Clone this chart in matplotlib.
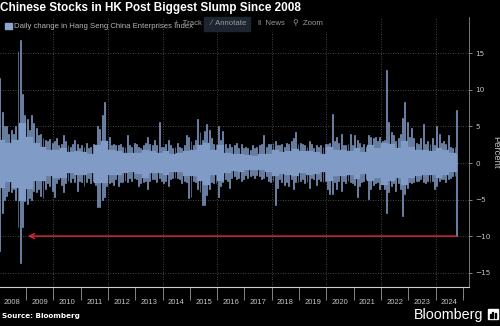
import matplotlib
matplotlib.use("Agg")
import matplotlib.pyplot as plt
from matplotlib.patches import Rectangle
import numpy as np
import pandas as pd

# Hang Seng China Enterprises Index, daily % change summarised by month:
# the biggest rise / fall of each month (the spikes) ...
months = pd.date_range("2008-01-01", "2024-10-01", freq="MS")
last_day = pd.Timestamp("2024-10-08")

max_gain = [
    11.6, 7.0, 5.0, 5.0, 4.0, 4.5, 4.0, 5.0, 15.3, 16.8, 9.5, 6.5,   # 2008
    6.0, 4.5, 6.5, 5.5, 4.8, 3.8, 4.0, 3.4, 3.2, 3.0, 3.3, 2.8,      # 2009
    3.0, 3.4, 2.4, 2.6, 3.8, 3.0, 2.4, 2.2, 2.6, 3.2, 2.6, 2.0,      # 2010
    2.4, 2.2, 2.8, 2.0, 2.2, 2.6, 2.4, 5.0, 4.6, 6.6, 8.3, 3.0,      # 2011
    3.6, 2.4, 2.6, 2.4, 2.4, 2.6, 2.2, 2.2, 3.8, 2.4, 2.2, 2.8,      # 2012
    2.6, 2.2, 2.0, 2.4, 2.8, 3.6, 2.6, 2.4, 3.2, 2.4, 5.6, 2.2,      # 2013
    2.2, 2.6, 3.2, 2.4, 2.0, 2.2, 2.8, 2.2, 2.0, 2.4, 3.8, 3.5,      # 2014
    3.0, 2.4, 3.2, 6.0, 4.2, 3.2, 4.4, 5.4, 4.5, 3.4, 2.6, 2.6,      # 2015
    5.0, 3.2, 4.4, 2.6, 2.0, 2.6, 2.2, 2.4, 2.8, 2.0, 2.6, 2.0,      # 2016
    2.2, 2.0, 1.8, 2.4, 2.0, 2.2, 2.4, 2.6, 3.8, 2.2, 2.6, 2.6,      # 2017
    2.8, 3.0, 2.4, 2.4, 2.6, 2.2, 2.8, 2.6, 3.0, 3.4, 4.2, 2.6,      # 2018
    2.8, 2.6, 2.4, 2.2, 3.0, 2.6, 2.0, 2.4, 2.2, 2.4, 2.2, 2.6,      # 2019
    2.6, 2.8, 6.7, 3.0, 3.6, 2.8, 4.0, 2.4, 2.4, 2.6, 4.0, 2.4,      # 2020
    3.8, 3.2, 2.8, 2.2, 2.6, 2.2, 3.8, 3.6, 3.4, 3.6, 3.0, 3.6,      # 2021
    3.0, 3.2, 12.7, 5.6, 4.2, 3.8, 3.0, 3.4, 4.0, 6.2, 8.4, 5.6,     # 2022
    3.6, 4.8, 3.4, 2.8, 2.6, 3.4, 5.4, 2.6, 3.0, 2.6, 3.4, 2.4,      # 2023
    5.0, 4.0, 2.8, 3.0, 2.6, 3.8, 2.2, 2.0, 2.2, 7.2,                # 2024
]
max_loss = [
    -12.0, -6.9, -5.0, -4.5, -3.8, -4.0, -3.6, -5.0, -8.8, -13.7, -8.8, -5.2,
    -5.6, -4.8, -5.0, -3.8, -4.0, -3.6, -4.5, -4.8, -3.5, -2.8, -3.2, -3.8,
    -4.6, -2.8, -2.2, -3.0, -4.0, -2.8, -2.4, -2.6, -2.0, -2.6, -3.8, -2.4,
    -2.6, -3.2, -2.6, -2.0, -2.8, -2.4, -3.0, -6.0, -6.0, -5.0, -4.6, -3.2,
    -2.8, -2.6, -3.0, -2.2, -3.2, -2.6, -2.6, -2.4, -2.6, -2.0, -2.4, -2.0,
    -2.2, -3.2, -2.8, -2.6, -2.4, -3.6, -2.4, -2.2, -2.2, -2.6, -2.0, -2.4,
    -2.8, -2.4, -3.2, -2.2, -2.0, -2.0, -2.0, -2.2, -2.8, -2.4, -2.6, -4.8,
    -4.6, -2.4, -2.6, -3.6, -4.0, -5.7, -5.8, -4.4, -3.6, -2.6, -2.8, -2.8,
    -4.7, -3.2, -2.6, -2.2, -2.4, -3.4, -2.0, -1.8, -2.2, -2.0, -2.4, -2.2,
    -1.6, -2.0, -1.8, -1.6, -2.0, -1.6, -1.8, -2.2, -2.0, -1.8, -2.4, -2.6,
    -2.4, -5.7, -3.4, -2.2, -2.6, -3.0, -2.6, -3.2, -2.2, -3.6, -2.6, -2.6,
    -2.4, -2.2, -2.8, -2.6, -3.4, -2.0, -2.2, -3.0, -2.2, -2.4, -2.6, -2.4,
    -3.6, -4.2, -4.3, -2.6, -3.6, -2.4, -3.8, -2.4, -2.8, -2.4, -2.6, -2.8,
    -3.0, -4.6, -3.2, -2.6, -2.4, -2.2, -4.9, -3.6, -3.0, -2.8, -2.6, -3.6,
    -2.8, -3.6, -6.9, -4.0, -3.2, -2.8, -3.8, -2.8, -3.6, -7.2, -4.2, -3.4,
    -2.6, -2.8, -2.6, -2.4, -2.4, -2.2, -2.6, -2.8, -2.4, -2.6, -2.4, -3.6,
    -3.2, -2.4, -2.2, -2.2, -2.6, -2.2, -2.0, -1.8, -1.8, -10.0,
]

# ... and the typical daily range of each quarter (the dense band)
band_up = [
    3.2, 2.8, 3.2, 5.5,   3.6, 2.8, 2.2, 1.8,   1.8, 2.0, 1.5, 1.7,
    1.5, 1.3, 2.4, 3.0,   1.8, 1.6, 1.4, 1.4,   1.4, 1.8, 1.6, 1.4,
    1.6, 1.2, 1.4, 1.6,   1.8, 2.4, 2.8, 1.8,   2.4, 1.4, 1.2, 1.2,
    1.1, 1.0, 1.2, 1.3,   1.8, 1.5, 1.6, 1.9,   1.6, 1.6, 1.5, 1.3,
    2.2, 1.8, 1.8, 1.6,   2.0, 1.5, 2.4, 2.0,   2.8, 2.6, 2.0, 3.0,
    2.2, 1.8, 1.8, 1.6,   2.0, 1.8, 1.4, 1.2,
]
band_down = [
    -3.4, -2.6, -3.4, -5.2,   -3.6, -2.4, -2.4, -1.8,   -2.0, -2.0, -1.4, -1.6,
    -1.6, -1.4, -2.8, -2.8,   -1.6, -1.6, -1.4, -1.2,   -1.5, -2.0, -1.4, -1.3,
    -1.6, -1.2, -1.2, -1.8,   -1.8, -2.4, -3.0, -1.6,   -2.4, -1.4, -1.1, -1.2,
    -0.9, -0.9, -1.0, -1.2,   -1.8, -1.5, -1.7, -1.8,   -1.4, -1.7, -1.5, -1.2,
    -2.4, -1.8, -1.8, -1.6,   -2.2, -1.5, -2.4, -2.0,   -3.0, -2.4, -2.0, -3.0,
    -2.0, -1.8, -1.6, -1.6,   -2.0, -1.6, -1.2, -1.2,
]

year_labels = list(range(2008, 2025))
y_ticks = [-15, -10, -5, 0, 5, 10, 15]
arrow_target = 2009.07   # points back at the 2008 crash
slump = max_loss[-1]


def dec_year(ts):
    ts = pd.DatetimeIndex(ts)
    days = np.where(ts.is_leap_year, 366, 365)
    return ts.year + (ts.dayofyear - 1) / days


edges = dec_year(list(months) + [last_day])
left = edges[:-1]
width = np.diff(edges)
centre = left + width / 2
quarter = np.arange(len(months)) // 3
spike_w = 0.4 / 12

BAR = "#7f9bc6"
GRID = "#5c5c5c"
TXT = "#c4c4c4"
SANS = ["Liberation Sans", "DejaVu Sans"]

fig = plt.figure(figsize=(5, 3.26), dpi=100, facecolor="black")
ax = fig.add_axes([0, 0.1187, 0.938, 0.8298], facecolor="black")

for band in (band_up, band_down):
    ax.bar(left, np.asarray(band)[quarter], width=width, align="edge",
           color=BAR, edgecolor=BAR, lw=0.2, zorder=3)
for ext in (max_gain, max_loss):
    ax.bar(centre, ext, width=spike_w, color=BAR, edgecolor=BAR, lw=0.45, zorder=3)

ax.annotate("", xy=(arrow_target, slump), xytext=(edges[-1], slump),
            arrowprops=dict(arrowstyle="->", color="#d02a3c", lw=1.1, mutation_scale=9,
                            shrinkA=0, shrinkB=0), zorder=4)

ax.set_xlim(2008.048, 2025.22)
ax.set_ylim(-17, 20)

# grid: dotted, horizontal every 5%, vertical every other year
for v in y_ticks:
    ax.axhline(v, color=GRID, lw=0.6, ls=(0, (1, 2)), zorder=1)
for yr in year_labels:
    if yr % 2 == 0 and yr > 2008:
        ax.axvline(yr, color=GRID, lw=0.6, ls=(0, (1, 2)), zorder=1)

ax.yaxis.tick_right()
ax.set_yticks(y_ticks)
ax.tick_params(axis="y", colors="#9a9a9a", labelcolor=TXT, labelsize=5.2, length=2.5, width=0.6, pad=2)

ax.set_xticks(np.arange(2009, 2026))
ax.set_xticklabels([])
ax.set_xticks(np.array(year_labels) + 0.5, minor=True)
ax.set_xticklabels([str(y) for y in year_labels], minor=True, family=SANS, fontsize=5.5, color=TXT)
ax.tick_params(axis="x", which="major", length=9.5, width=0.6, color="#9a9a9a", direction="out")
ax.tick_params(axis="x", which="minor", length=0, pad=8.5)

for s in ["top", "left"]:
    ax.spines[s].set_visible(False)
ax.spines["bottom"].set_color("#d0d0d0")
ax.spines["bottom"].set_linewidth(0.8)
ax.spines["right"].set_color("#8a8a8a")
ax.spines["right"].set_linewidth(0.6)

fig.text(0.5 / 500, 1 - 1.5 / 326, "Chinese Stocks in HK Post Biggest Slump Since 2008",
         family=SANS, weight="bold", fontsize=8.5, color="white", va="top")

# legend entry
fig.patches.append(Rectangle((5 / 500, 1 - 29.3 / 326), 6.7 / 500, 6.6 / 326,
                             transform=fig.transFigure, color="#8ca7d2"))
fig.text(14 / 500, 1 - 26 / 326, "Daily change in Hang Seng China Enterprises Index",
         family=SANS, fontsize=5.6, color="#b4b4b4", va="center")

# chart toolbar
fig.patches.append(Rectangle((167 / 500, 1 - 31 / 326), 159 / 500, 14 / 326,
                             transform=fig.transFigure, color="black", alpha=0.75))
fig.patches.append(Rectangle((204 / 500, 1 - 31 / 326), 46 / 500, 14 / 326,
                             transform=fig.transFigure, color="#1d2531"))
for xpix, lab in [(188, "+  Track"), (229, "\u2215  Annotate"), (271.5, "\u2016  News"), (308, "\u26b2  Zoom")]:
    fig.text(xpix / 500, 1 - 23.5 / 326, lab, family=SANS,
             fontsize=5.6, color="#9a9a9a", ha="center", va="center")

fig.text(0.992, 1 - 152 / 326, "Percent", rotation=270, fontsize=6.8, color=TXT,
         ha="center", va="center", family=SANS)

fig.text(2 / 500, 1 - 318 / 326, "Source: Bloomberg", family="DejaVu Sans", weight="bold",
         fontsize=5.2, color="white", va="baseline")
fig.text(483 / 500, 1 - 318.5 / 326, "Bloomberg", family=SANS, fontsize=10.3,
         color="white", ha="right", va="baseline")
fig.patches.append(Rectangle((487.5 / 500, 1 - 319 / 326), 10 / 500, 10 / 326,
                             transform=fig.transFigure, color="white"))
for bx, bh in [(489.5, 3.5), (492, 6), (494.5, 4.5)]:
    fig.patches.append(Rectangle((bx / 500, 1 - 317.5 / 326), 1.3 / 500, bh / 326,
                                 transform=fig.transFigure, color="black"))

fig.savefig("out.png", dpi=100, facecolor="black")
